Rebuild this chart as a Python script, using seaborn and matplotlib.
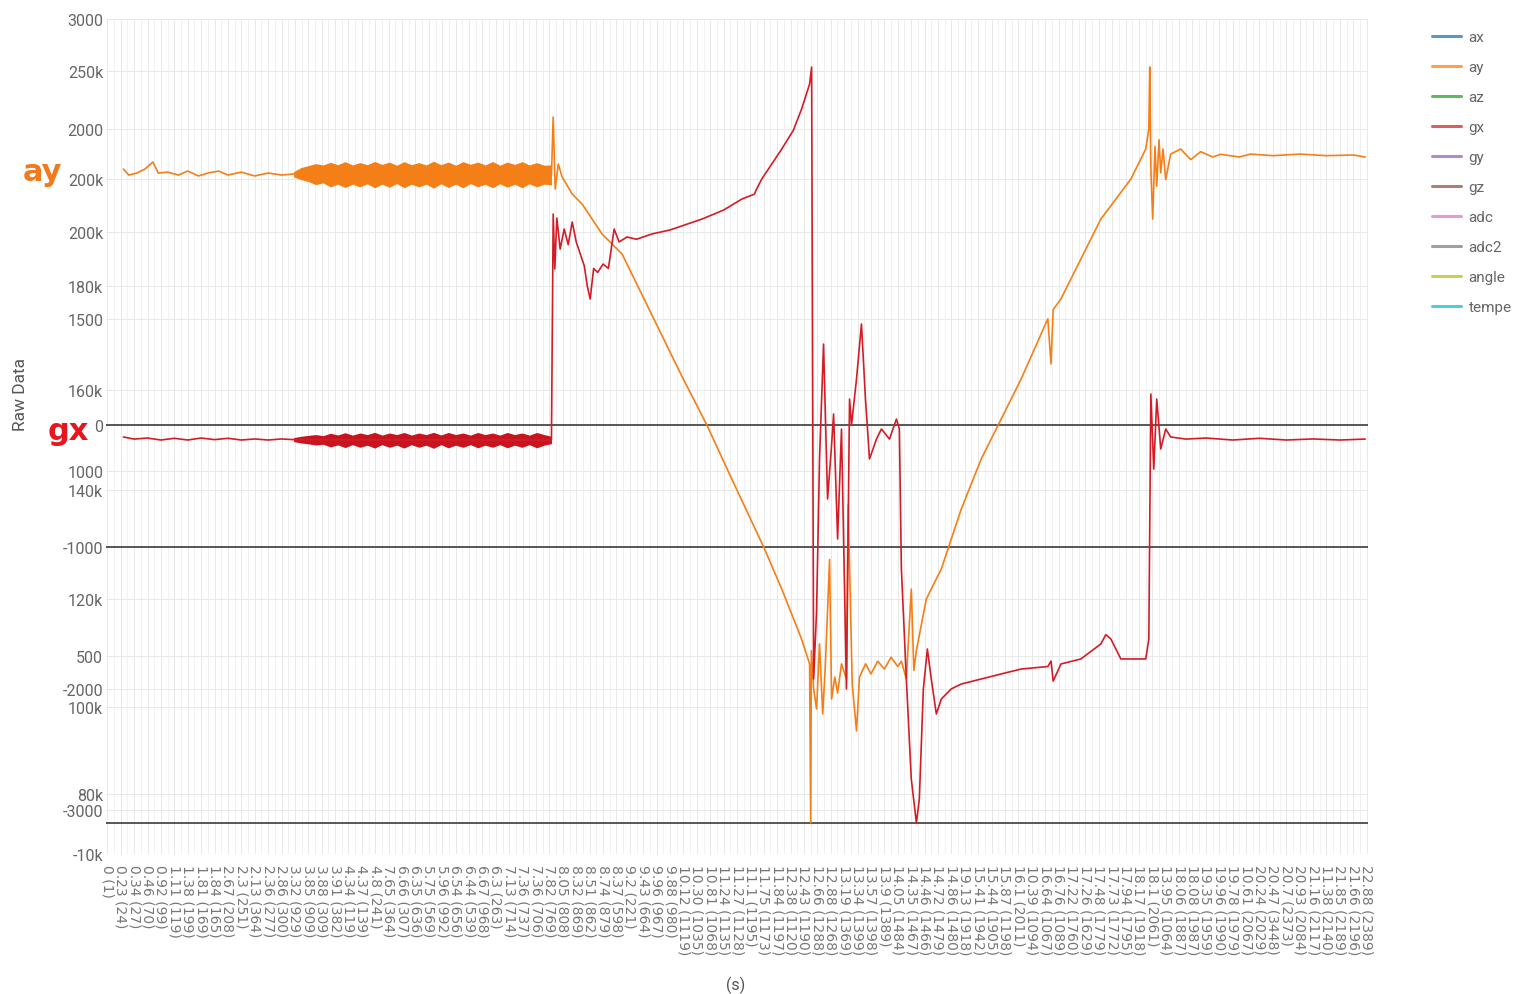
import pandas as pd
import seaborn as sns
import matplotlib.pyplot as plt
from matplotlib.lines import Line2D
from matplotlib.ticker import FixedLocator, MultipleLocator

# Etiquetas del eje x (tiempo (muestra)), una por posición
x_labels = [
    "0 (1)", "0.23 (24)", "0.34 (27)", "0.46 (70)", "0.92 (99)", "1.11 (119)", "1.38 (199)",
    "1.81 (169)", "1.84 (165)", "2.67 (208)", "2.3 (251)", "2.13 (364)", "2.36 (277)",
    "2.86 (300)", "3.32 (929)", "3.85 (909)", "3.88 (309)", "3.91 (382)", "4.34 (119)",
    "4.37 (139)", "4.8 (241)", "7.65 (364)", "6.66 (307)", "6.35 (636)", "5.75 (569)",
    "5.96 (992)", "6.54 (656)", "6.44 (539)", "6.67 (968)", "6.3 (263)", "7.13 (714)",
    "7.36 (737)", "7.36 (706)", "7.82 (769)", "8.05 (808)", "8.32 (869)", "8.51 (862)",
    "8.74 (879)", "8.37 (598)", "9.2 (221)", "9.43 (664)", "9.96 (967)", "9.88 (980)",
    "10.12 (1119)", "10.30 (1035)", "10.81 (1068)", "11.24 (1135)", "11.27 (1128)",
    "11.1 (1195)", "11.75 (1173)", "11.84 (1197)", "12.38 (1120)", "12.43 (1190)",
    "12.66 (1288)", "12.88 (1268)", "13.19 (1369)", "13.34 (1399)", "13.57 (1398)",
    "13.9 (1389)", "14.05 (1484)", "14.35 (1467)", "14.46 (1466)", "14.72 (1479)",
    "14.86 (1480)", "19.13 (1918)", "15.41 (1942)", "15.44 (1905)", "15.87 (1198)",
    "16.1 (2011)", "10.39 (1094)", "16.64 (1067)", "16.76 (1089)", "17.22 (1760)",
    "17.26 (1629)", "17.48 (1779)", "17.73 (1772)", "17.94 (1795)", "18.17 (1918)",
    "18.1 (2061)", "13.95 (1064)", "18.06 (1887)", "18.08 (1987)", "19.35 (1959)",
    "19.96 (1990)", "19.78 (1979)", "10.61 (2067)", "20.24 (2029)", "20.47 (3448)",
    "20.7 (2373)", "20.93 (2084)", "21.16 (2117)", "11.38 (2140)", "21.85 (2189)",
    "21.66 (2196)", "22.88 (2389)",
]

# Etiquetas del eje y (varias escalas superpuestas) y su posición
y_labels = ["3000", "250k", "2000", "200k", "200k", "180k", "1500", "160k", "0", "1000",
            "140k", "-1000", "120k", "500", "-2000", "100k", "80k", "-3000", "-10k"]
y_label_pos = [3060, 2668, 2231, 1854, 1454, 1047, 799, 264, 0, -347,
               -490, -919, -1311, -1741, -1989, -2125, -2781, -2901, -3233]
ref_lines = [0, -919, -2999]

# Serie ay
ay_x = [1.2, 1.6, 2.2, 2.8, 3.4, 3.8, 4.5, 5.3, 6.0, 6.8, 7.5, 8.3, 9.0, 10.0, 11.0, 12.0,
        13.0, 13.9, 33.15, 33.28, 33.43, 33.66, 33.95, 34.70, 35.44, 36.19, 36.93, 38.42,
        40.65, 42.88, 44.75, 46.61, 48.99, 50.34, 51.82, 52.42, 52.50, 52.55, 52.72, 52.94,
        53.16, 53.40, 53.60, 53.91, 54.06, 54.30, 54.51, 54.80, 55.17, 55.30, 55.60, 55.92,
        56.14, 56.60, 57.00, 57.50, 58.00, 58.50, 59.00, 59.27, 59.64, 60.01, 60.20, 60.39,
        61.13, 62.25, 63.74, 65.23, 66.72, 68.21, 70.20, 70.44, 70.60, 71.18, 72.67, 74.16,
        76.40, 77.51, 77.74, 77.81, 77.90, 78.03, 78.20, 78.33, 78.50, 78.63, 78.80, 79.00,
        79.37, 80.12, 80.86, 81.61, 82.50, 83.10, 84.50, 85.33, 87.00, 89.05, 91.00, 93.00,
        93.89]
ay_y = [1929, 1884, 1899, 1929, 1982, 1899, 1906, 1884, 1914, 1877, 1899, 1914, 1884, 1906,
        1877, 1899, 1884, 1892, 1884, 2321, 1779, 1967, 1869, 1741, 1665, 1552, 1439, 1289,
        829, 369, 0, -407, -919, -1236, -1613, -1801, -2999, -1700, -1989, -2140,
        -1650, -2178, -1800, -1013, -2065, -1900, -2020, -1800, -1914, -600, -1950, -2306,
        -1900, -1800, -1876, -1780, -1839, -1750, -1820, -1780, -1914, -1236, -1850, -1700,
        -1311, -1085, -633, -256, 45, 347, 800, 460, 870, 950, 1251, 1552,
        1854, 2080, 2231, 2698, 1900, 1552, 2100, 1800, 2150, 1900, 2080, 1850,
        2042, 2080, 2000, 2060, 2020, 2040, 2020, 2042, 2030, 2042, 2030, 2035,
        2020]

# Serie gx
gx_x = [1.2, 2.0, 3.0, 4.0, 5.0, 6.0, 7.0, 8.0, 9.0, 10.0, 11.0, 12.0, 13.0, 13.9, 33.15,
        33.28, 33.40, 33.55, 33.80, 34.10, 34.40, 34.70, 35.00, 35.30, 35.60, 35.82, 36.04,
        36.30, 36.60, 37.00, 37.40, 37.83, 38.20, 38.79, 39.50, 40.65, 42.00, 44.38, 46.00,
        47.36, 48.30, 48.47, 48.85, 50.34, 51.20, 51.82, 52.42, 52.57, 52.72, 52.94, 53.16,
        53.46, 53.76, 54.06, 54.21, 54.51, 54.80, 55.17, 55.40, 55.55, 55.92, 56.29, 56.59,
        56.89, 57.41, 57.78, 58.38, 58.90, 59.12, 59.27, 59.64, 60.01, 60.39, 60.61, 60.91,
        61.21, 61.50, 61.88, 62.25, 62.99, 63.74, 65.23, 66.72, 68.21, 70.20, 70.44, 70.60,
        71.18, 72.67, 74.16, 74.53, 74.91, 75.65, 77.51, 77.74, 77.89, 78.11, 78.33, 78.63,
        79.00, 79.37, 80.50, 82.00, 84.00, 86.00, 88.00, 90.00, 92.00, 93.89]
gx_y = [-90, -106, -98, -113, -100, -113, -98, -110, -100, -113, -105, -113, -105, -110, -113,
        1590, 1176, 1560, 1326, 1477, 1360, 1530, 1380, 1289, 1200, 1050, 950,
        1180, 1150, 1213, 1180, 1477, 1380, 1417, 1400, 1440, 1470, 1552, 1620,
        1703, 1740, 1780, 1854, 2080, 2220, 2381, 2570, 2698, -1914, -1400, -256,
        610, -558, -150, 83, -859, -30, -1989, 196, 0, 347, 761, 196,
        -256, -106, -30, -106, 45, -30, -1085, -1914, -2668, -2999, -2818, -1989,
        -1688, -1914, -2178, -2065, -1989, -1952, -1914, -1876, -1839, -1820, -1779, -1930,
        -1801, -1763, -1650, -1580, -1613, -1763, -1763, -1613, 234, -332, 196, -181,
        -30, -90, -106, -98, -113, -100, -113, -105, -113, -106]

# Zona de oscilación rápida (envolventes superior e inferior)
band_x = [13.9, 14.45, 15.0, 15.55, 16.1, 16.65, 17.2, 17.75, 18.3, 18.85, 19.4, 19.95,
          20.5, 21.05, 21.6, 22.15, 22.7, 23.25, 23.8, 24.35, 24.9, 25.45, 26.0, 26.55,
          27.1, 27.65, 28.2, 28.75, 29.3, 29.85, 30.4, 30.95, 31.5, 32.05, 32.6, 33.15]
ay_band_hi = [1910, 1940, 1955, 1970, 1960, 1980, 1962, 1985, 1960, 1978, 1962, 1986,
              1964, 1982, 1958, 1985, 1962, 1978, 1960, 1988, 1962, 1982, 1958, 1985,
              1965, 1982, 1960, 1986, 1958, 1982, 1964, 1985, 1960, 1978, 1958, 1960]
ay_band_lo = [1870, 1850, 1835, 1812, 1825, 1795, 1815, 1790, 1815, 1795, 1818, 1788,
              1815, 1792, 1820, 1788, 1815, 1795, 1815, 1785, 1818, 1790, 1815, 1788,
              1820, 1795, 1815, 1788, 1818, 1792, 1815, 1788, 1818, 1795, 1815, 1810]
gx_band_hi = [-95, -85, -78, -72, -80, -62, -75, -58, -76, -60, -72, -55,
              -76, -60, -72, -56, -76, -60, -72, -55, -75, -56, -72, -60,
              -76, -56, -72, -60, -76, -56, -72, -60, -76, -56, -72, -85]
gx_band_lo = [-125, -135, -142, -150, -145, -165, -150, -170, -148, -168, -152, -174,
              -148, -168, -152, -174, -148, -168, -152, -176, -148, -172, -152, -168,
              -148, -172, -152, -168, -148, -172, -152, -168, -148, -172, -152, -140]

legend_names = ["ax", "ay", "az", "gx", "gy", "gz", "adc", "adc2", "angle", "tempe"]
legend_colors = ["#1f77b4", "#ff7f0e", "#2ca02c", "#d62728", "#9467bd",
                 "#8c564b", "#e377c2", "#7f7f7f", "#bcbd22", "#17becf"]
palette = {"ay": "#f57f17", "gx": "#d41c26"}

sns.set_style("white")
plt.rcParams['font.family'] = ['Roboto', 'DejaVu Sans']

df = pd.concat([
    pd.DataFrame({"slot": ay_x, "value": ay_y, "series": "ay"}),
    pd.DataFrame({"slot": gx_x, "value": gx_y, "series": "gx"}),
], ignore_index=True)

fig = plt.figure(figsize=(15.17, 9.95), dpi=100)
ax = fig.add_axes([106 / 1517, 140 / 995, 1262 / 1517, 835 / 995])

# Bandas de oscilación
ax.fill_between(band_x, ay_band_lo, ay_band_hi, color=palette["ay"], lw=0, zorder=2)
ax.fill_between(band_x, gx_band_lo, gx_band_hi, color="#c8141e", lw=0, zorder=2)

sns.lineplot(data=df, x="slot", y="value", hue="series", palette=palette,
             sort=False, estimator=None, errorbar=None, legend=False,
             linewidth=1.2, ax=ax, zorder=3)

for y in ref_lines:
    ax.axhline(y, color="#4a4a4a", lw=1.3, zorder=1.5)

ax.set_xlim(-0.1, 94.1)
ax.set_ylim(-3233, 3060)

ax.set_xticks(range(len(x_labels)))
ax.set_xticklabels(x_labels, rotation=-90, fontsize=10, color="#777777",
                   family="DejaVu Sans")
ax.xaxis.set_minor_locator(MultipleLocator(0.5))
ax.yaxis.set_major_locator(FixedLocator(y_label_pos))
ax.set_yticklabels(y_labels, fontsize=11.5, color="#666666")
ax.tick_params(axis="x", which="both", length=0, pad=7)
ax.tick_params(axis="y", length=0, pad=2)

ax.grid(True, which="major", axis="both", color="#e8e8e8", lw=0.7)
ax.grid(True, which="minor", axis="x", color="#efefef", lw=0.6)
sns.despine(ax=ax, left=True, bottom=True)

ax.set_xlabel("(s)", fontsize=11.5, color="#555555")
ax.xaxis.set_label_coords(0.499, -0.146)
ax.set_ylabel("Raw Data", fontsize=12.5, color="#555555")
ax.yaxis.set_label_coords(-0.062, 0.551)

fig.text(42 / 1517, 1 - 173 / 995, "ay", color="#f07a1e", fontsize=22,
         fontweight="bold", ha="center", va="center", family="DejaVu Sans")
fig.text(68 / 1517, 1 - 432 / 995, "gx", color="#e8141e", fontsize=22,
         fontweight="bold", ha="center", va="center", family="DejaVu Sans")

handles = [Line2D([], [], color=c, lw=2.2, alpha=0.75) for c in legend_colors]
fig.legend(handles, legend_names, loc="upper left",
           bbox_to_anchor=(1432 / 1517, 1 - 31 / 995), frameon=False, fontsize=11,
           labelcolor="#666666", handlelength=1.9, handletextpad=0.5,
           labelspacing=1.05, borderpad=0, borderaxespad=0)

fig.savefig("out.png", dpi=100)
